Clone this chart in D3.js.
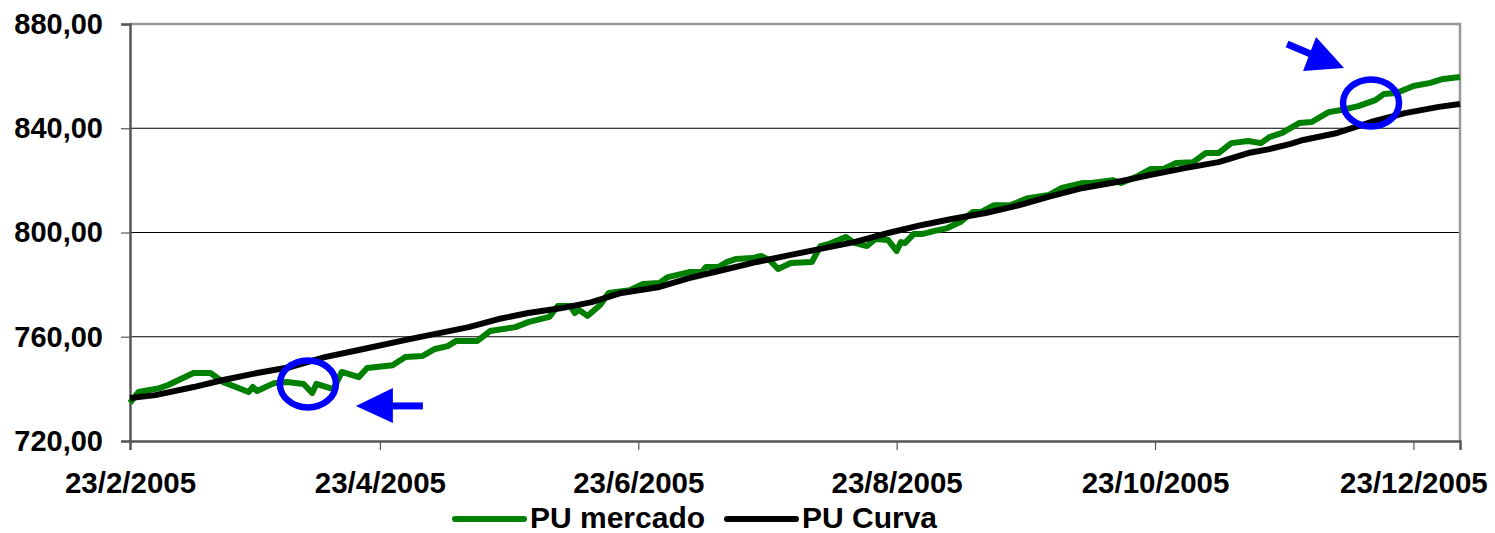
<!DOCTYPE html>
<html>
<head>
<meta charset="utf-8">
<script src="https://cdn.jsdelivr.net/npm/d3@7"></script>
<style>
  body { margin: 0; background: #fff; }
  text { font-family: "Liberation Sans", Arial, sans-serif; font-weight: bold; }
</style>
</head>
<body>
<svg id="chart" width="1495" height="533"></svg>
<script>
// PU mercado (green)
var mercadoDates = ["2005-02-23","2005-02-25","2005-03-02","2005-03-04","2005-03-10","2005-03-14","2005-03-17","2005-03-20",
  "2005-03-23","2005-03-24","2005-03-25","2005-03-29","2005-04-01","2005-04-05","2005-04-07","2005-04-08","2005-04-12",
  "2005-04-14","2005-04-18","2005-04-20","2005-04-26","2005-04-29","2005-05-03","2005-05-06","2005-05-09","2005-05-11",
  "2005-05-16","2005-05-19","2005-05-25","2005-05-28","2005-06-02","2005-06-04","2005-06-07","2005-06-08","2005-06-09",
  "2005-06-11","2005-06-14","2005-06-16","2005-06-21","2005-06-24","2005-06-28","2005-06-30","2005-07-05","2005-07-08",
  "2005-07-09","2005-07-12","2005-07-14","2005-07-16","2005-07-20","2005-07-22","2005-07-24","2005-07-26","2005-07-29",
  "2005-08-03","2005-08-05","2005-08-07","2005-08-11","2005-08-13","2005-08-16","2005-08-18","2005-08-21","2005-08-23",
  "2005-08-24","2005-08-25","2005-08-27","2005-08-29","2005-09-01","2005-09-04","2005-09-07","2005-09-10","2005-09-12",
  "2005-09-15","2005-09-19","2005-09-23","2005-09-28","2005-10-01","2005-10-06","2005-10-08","2005-10-13","2005-10-15",
  "2005-10-19","2005-10-22","2005-10-25","2005-10-28","2005-11-01","2005-11-04","2005-11-07","2005-11-10","2005-11-14",
  "2005-11-17","2005-11-19","2005-11-22","2005-11-26","2005-11-29","2005-12-03","2005-12-06","2005-12-10","2005-12-14",
  "2005-12-16","2005-12-19","2005-12-23","2005-12-27","2005-12-30","2006-01-03"];
var mercadoValues = [734.6,738.8,740.3,741.5,746.1,746.1,742.6,740.7,
  738.8,740.7,739.2,742.2,742.6,741.9,738.4,741.9,739.9,
  746.5,744.5,748.0,749.1,752.2,752.6,755.3,756.4,758.4,
  758.4,762.2,763.7,765.6,767.6,771.8,771.8,769.1,770.3,
  768.0,772.2,776.8,777.9,780.2,780.6,782.9,784.8,784.8,
  786.8,786.8,788.7,789.8,790.2,791.0,789.4,786.0,788.3,
  788.7,794.8,795.6,798.3,796.0,794.8,797.5,797.1,792.9,
  796.3,796.0,799.4,799.4,800.6,801.7,804.0,807.9,807.9,
  810.5,810.5,813.2,814.4,817.1,819.0,819.0,820.1,819.0,
  821.7,824.4,824.4,826.7,827.0,830.5,830.5,834.3,835.1,
  834.3,836.6,838.2,842.0,842.4,846.2,847.0,848.5,850.8,
  853.1,853.5,856.2,857.4,858.9,859.7];

// PU Curva (black)
var curvaDates = ["2005-02-23","2005-03-01","2005-03-10","2005-03-17","2005-03-25","2005-04-02","2005-04-10","2005-04-18",
  "2005-04-30","2005-05-07","2005-05-14","2005-05-21","2005-05-28","2005-06-05","2005-06-12","2005-06-19","2005-06-28",
  "2005-07-05","2005-07-13","2005-07-21","2005-07-29","2005-08-05","2005-08-13","2005-08-21","2005-08-29","2005-09-05",
  "2005-09-13","2005-09-21","2005-09-28","2005-10-06","2005-10-14","2005-10-22","2005-10-30","2005-11-07","2005-11-14",
  "2005-11-19","2005-11-24","2005-11-27","2005-12-05","2005-12-13","2005-12-21","2005-12-29","2006-01-03"];
var curvaValues = [736.5,737.6,740.7,743.4,746.1,748.4,752.2,754.9,
  759.1,761.4,763.7,766.8,769.1,771.0,773.3,776.8,779.1,
  782.5,785.6,788.7,791.4,793.7,796.3,799.8,802.9,805.2,
  807.5,810.5,813.8,817.1,819.4,822.1,824.7,827.0,830.5,
  832.0,834.0,835.5,838.2,842.4,845.8,848.2,849.3];

var yTicks = [720, 760, 800, 840, 880];
var xTicks = ["2005-02-23","2005-04-23","2005-06-23","2005-08-23","2005-10-23","2005-12-23"];
var seriesNames = ["PU mercado", "PU Curva"];
var seriesColors = ["#008000", "#000000"];
// highlighted spots (date, value)
var marks = [{date:"2005-04-06", value:741.9}, {date:"2005-12-13", value:849.7}];

var parse = d3.timeParse("%Y-%m-%d");
var fmtDate = d3.timeFormat("%-d/%-m/%Y");
var ptBR = d3.formatLocale({decimal: ",", thousands: ".", grouping: [3], currency: ["R$", ""]});
var fmtVal = ptBR.format(".2f");

var svg = d3.select("#chart");
var plotL = 130, plotR = 1460, plotT = 24, plotB = 441;

var x = d3.scaleTime()
    .domain([parse("2005-02-23"), parse("2006-01-03")])
    .range([plotL, plotR]);
var y = d3.scaleLinear().domain([720, 880]).range([plotB, plotT]);

// gridlines
svg.append("g").selectAll("line").data(yTicks.slice(1, -1)).join("line")
    .attr("x1", plotL).attr("x2", plotR)
    .attr("y1", d => y(d)).attr("y2", d => y(d))
    .attr("stroke", "#000").attr("stroke-width", 1.2);

// plot border top/right
svg.append("path")
    .attr("d", `M${plotL},${plotT}H${plotR}V${plotB}`)
    .attr("fill", "none").attr("stroke", "#999").attr("stroke-width", 2.5);

// y axis
var yAxis = svg.append("g").attr("transform", `translate(${plotL},0)`)
    .call(d3.axisLeft(y).tickValues(yTicks).tickFormat(fmtVal).tickSize(9).tickPadding(18));
// x axis
var xAxis = svg.append("g").attr("transform", `translate(0,${plotB})`)
    .call(d3.axisBottom(x).tickValues(xTicks.map(parse)).tickFormat(fmtDate).tickSize(9).tickPadding(22));
[yAxis, xAxis].forEach(function(ax){
    ax.select(".domain").attr("stroke", "#555").attr("stroke-width", 2.5);
    ax.selectAll(".tick line").attr("stroke", "#555").attr("stroke-width", 1.2);
    ax.selectAll("text").attr("fill", "#000")
        .style("font-family", '"Liberation Sans", Arial, sans-serif').style("font-weight", "bold");
});
yAxis.selectAll("text").attr("font-size", 29);
xAxis.selectAll("text").attr("font-size", 29.5).attr("dy", "0.71em");

var line = d3.line().x(d => x(d.date)).y(d => y(d.value));
var mercado = mercadoDates.map((d, i) => ({date: parse(d), value: mercadoValues[i]}));
var curva = curvaDates.map((d, i) => ({date: parse(d), value: curvaValues[i]}));

svg.append("path").datum(mercado).attr("d", line)
    .attr("fill", "none").attr("stroke", seriesColors[0]).attr("stroke-width", 6)
    .attr("stroke-linejoin", "round");
svg.append("path").datum(curva).attr("d", line)
    .attr("fill", "none").attr("stroke", seriesColors[1]).attr("stroke-width", 6)
    .attr("stroke-linejoin", "round");

// blue annotations
marks.forEach(function(m){
    svg.append("ellipse")
        .attr("cx", x(parse(m.date))).attr("cy", y(m.value))
        .attr("rx", 28).attr("ry", 23.5)
        .attr("fill", "none").attr("stroke", "#0000ff").attr("stroke-width", 6.5);
});
var c1 = {x: x(parse(marks[0].date)), y: y(marks[0].value)};
var c2 = {x: x(parse(marks[1].date)), y: y(marks[1].value)};
// left-pointing arrow to the right of first circle
svg.append("path")
    .attr("d", `M${c1.x+48},${c1.y+22} L${c1.x+85},${c1.y+4} L${c1.x+85},${c1.y+39} Z`)
    .attr("fill", "#0000ff");
svg.append("line")
    .attr("x1", c1.x+84).attr("x2", c1.x+115)
    .attr("y1", c1.y+22).attr("y2", c1.y+22)
    .attr("stroke", "#0000ff").attr("stroke-width", 7);
// down-right arrow above second circle
svg.append("path")
    .attr("d", `M${c2.x-55},${c2.y-66} L${c2.x-27},${c2.y-35} L${c2.x-68},${c2.y-32} Z`)
    .attr("fill", "#0000ff");
svg.append("line")
    .attr("x1", c2.x-84).attr("y1", c2.y-59)
    .attr("x2", c2.x-58).attr("y2", c2.y-48)
    .attr("stroke", "#0000ff").attr("stroke-width", 7);

// legend
var legend = svg.append("g");
var legX = [455, 727];
seriesNames.forEach(function(name, i){
    legend.append("line")
        .attr("x1", legX[i]).attr("x2", legX[i] + 69)
        .attr("y1", 519).attr("y2", 519)
        .attr("stroke", seriesColors[i]).attr("stroke-width", 6).attr("stroke-linecap", "round");
    legend.append("text")
        .attr("x", legX[i] + 75).attr("y", 528)
        .attr("font-size", 30)
        .text(name);
});
</script>
</body>
</html>
